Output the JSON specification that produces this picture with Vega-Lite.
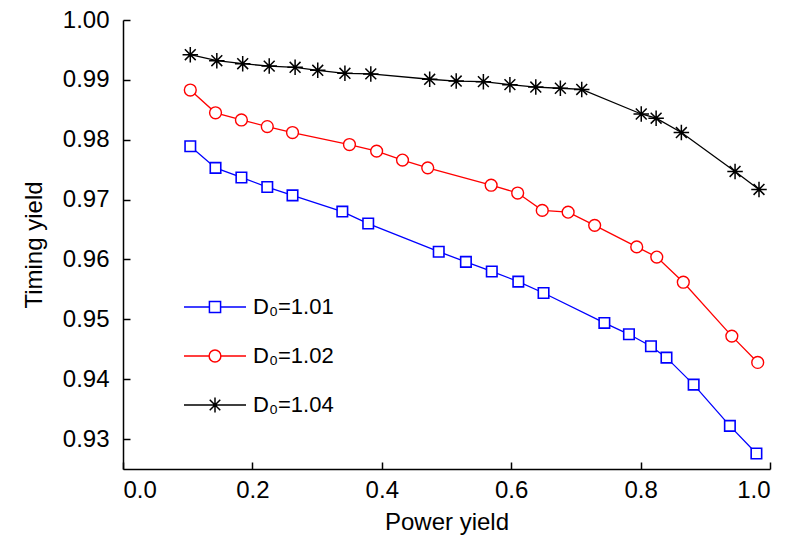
{
  "$schema": "https://vega.github.io/schema/vega-lite/v6.json",
  "width": 647,
  "height": 449,
  "autosize": {"type": "none"},
  "padding": {"left": 123, "top": 20, "right": 35, "bottom": 75},
  "config": {
    "view": {"stroke": null},
    "font": "Liberation Sans",
    "axis": {
      "grid": false,
      "domainColor": "#000000",
      "domainWidth": 1.5,
      "tickColor": "#000000",
      "tickWidth": 1.5,
      "tickSize": -7,
      "labelColor": "#000000",
      "titleColor": "#000000",
      "labelFont": "Liberation Sans",
      "titleFont": "Liberation Sans",
      "labelFontSize": 24,
      "titleFontSize": 24,
      "titleFontWeight": "normal"
    }
  },
  "data": {
    "values": [
      {"series": "D₀=1.01", "x": 0.104, "y": 0.9789},
      {"series": "D₀=1.01", "x": 0.143, "y": 0.9753},
      {"series": "D₀=1.01", "x": 0.183, "y": 0.9737},
      {"series": "D₀=1.01", "x": 0.223, "y": 0.9721},
      {"series": "D₀=1.01", "x": 0.262, "y": 0.9707},
      {"series": "D₀=1.01", "x": 0.339, "y": 0.9680},
      {"series": "D₀=1.01", "x": 0.379, "y": 0.9660},
      {"series": "D₀=1.01", "x": 0.488, "y": 0.9613},
      {"series": "D₀=1.01", "x": 0.530, "y": 0.9596},
      {"series": "D₀=1.01", "x": 0.570, "y": 0.9580},
      {"series": "D₀=1.01", "x": 0.611, "y": 0.9563},
      {"series": "D₀=1.01", "x": 0.650, "y": 0.9544},
      {"series": "D₀=1.01", "x": 0.744, "y": 0.9494},
      {"series": "D₀=1.01", "x": 0.782, "y": 0.9475},
      {"series": "D₀=1.01", "x": 0.816, "y": 0.9455},
      {"series": "D₀=1.01", "x": 0.840, "y": 0.9436},
      {"series": "D₀=1.01", "x": 0.882, "y": 0.9391},
      {"series": "D₀=1.01", "x": 0.938, "y": 0.9322},
      {"series": "D₀=1.01", "x": 0.979, "y": 0.9276},
      {"series": "D₀=1.02", "x": 0.104, "y": 0.9883},
      {"series": "D₀=1.02", "x": 0.143, "y": 0.9845},
      {"series": "D₀=1.02", "x": 0.183, "y": 0.9833},
      {"series": "D₀=1.02", "x": 0.223, "y": 0.9822},
      {"series": "D₀=1.02", "x": 0.262, "y": 0.9812},
      {"series": "D₀=1.02", "x": 0.350, "y": 0.9792},
      {"series": "D₀=1.02", "x": 0.392, "y": 0.9781},
      {"series": "D₀=1.02", "x": 0.432, "y": 0.9766},
      {"series": "D₀=1.02", "x": 0.471, "y": 0.9753},
      {"series": "D₀=1.02", "x": 0.569, "y": 0.9724},
      {"series": "D₀=1.02", "x": 0.610, "y": 0.9711},
      {"series": "D₀=1.02", "x": 0.648, "y": 0.9682},
      {"series": "D₀=1.02", "x": 0.688, "y": 0.9679},
      {"series": "D₀=1.02", "x": 0.729, "y": 0.9657},
      {"series": "D₀=1.02", "x": 0.794, "y": 0.9621},
      {"series": "D₀=1.02", "x": 0.825, "y": 0.9604},
      {"series": "D₀=1.02", "x": 0.866, "y": 0.9562},
      {"series": "D₀=1.02", "x": 0.941, "y": 0.9472},
      {"series": "D₀=1.02", "x": 0.981, "y": 0.9428},
      {"series": "D₀=1.04", "x": 0.104, "y": 0.9942},
      {"series": "D₀=1.04", "x": 0.145, "y": 0.9932},
      {"series": "D₀=1.04", "x": 0.185, "y": 0.9927},
      {"series": "D₀=1.04", "x": 0.226, "y": 0.9923},
      {"series": "D₀=1.04", "x": 0.266, "y": 0.9921},
      {"series": "D₀=1.04", "x": 0.301, "y": 0.9916},
      {"series": "D₀=1.04", "x": 0.343, "y": 0.9911},
      {"series": "D₀=1.04", "x": 0.383, "y": 0.9910},
      {"series": "D₀=1.04", "x": 0.474, "y": 0.9901},
      {"series": "D₀=1.04", "x": 0.515, "y": 0.9898},
      {"series": "D₀=1.04", "x": 0.557, "y": 0.9897},
      {"series": "D₀=1.04", "x": 0.598, "y": 0.9892},
      {"series": "D₀=1.04", "x": 0.638, "y": 0.9888},
      {"series": "D₀=1.04", "x": 0.676, "y": 0.9886},
      {"series": "D₀=1.04", "x": 0.709, "y": 0.9884},
      {"series": "D₀=1.04", "x": 0.801, "y": 0.9843},
      {"series": "D₀=1.04", "x": 0.824, "y": 0.9836},
      {"series": "D₀=1.04", "x": 0.863, "y": 0.9812},
      {"series": "D₀=1.04", "x": 0.946, "y": 0.9747},
      {"series": "D₀=1.04", "x": 0.983, "y": 0.9717}
    ]
  },
  "encoding": {
    "x": {
      "field": "x",
      "type": "quantitative",
      "scale": {"domain": [0, 1], "nice": false},
      "axis": {"values": [0, 0.2, 0.4, 0.6, 0.8, 1], "format": ".1f", "title": "Power yield", "labelPadding": 16, "titlePadding": 8}
    },
    "y": {
      "field": "y",
      "type": "quantitative",
      "scale": {"domain": [0.925, 1.0], "nice": false, "zero": false},
      "axis": {"values": [0.93, 0.94, 0.95, 0.96, 0.97, 0.98, 0.99, 1.0], "format": ".2f", "title": "Timing yield", "labelPadding": 21, "titlePadding": 16}
    }
  },
  "layer": [
    {
      "mark": {"type": "line", "strokeWidth": 1.3},
      "encoding": {
        "color": {
          "field": "series",
          "type": "nominal",
          "scale": {"domain": ["D₀=1.01", "D₀=1.02", "D₀=1.04"], "range": ["#0000ff", "#ff0000", "#000000"]},
          "legend": {
            "title": null,
            "orient": "none",
            "legendX": 60,
            "legendY": 277,
            "padding": 0,
            "symbolSize": 3844,
            "symbolStrokeWidth": 1.5,
            "clipHeight": 20,
            "rowPadding": 27,
            "labelOffset": 6,
            "labelFont": "Liberation Sans",
            "labelFontSize": 22,
            "labelColor": "#000000",
            "encode": {
              "symbols": {
                "update": {
                  "shape": {"signal": "datum.value === 'D₀=1.01' ? 'M-1,0L-0.18,0M0.18,0L1,0M-0.18,-0.18L0.18,-0.18L0.18,0.18L-0.18,0.18Z' : datum.value === 'D₀=1.02' ? 'M-1,0L-0.19,0M0.19,0L1,0M-0.19,0A0.19,0.19 0 1,0 0.19,0A0.19,0.19 0 1,0 -0.19,0Z' : 'M-1,0L1,0M0,-0.24L0,0.24M-0.17,-0.17L0.17,0.17M-0.17,0.17L0.17,-0.17'"},
                  "fill": {"value": "#ffffff"},
                  "fillOpacity": {"value": 1},
                  "stroke": {"scale": "color", "field": "value"},
                  "strokeWidth": {"value": 1.5},
                  "opacity": {"value": 1}
                }
              }
            }
          }
        }
      }
    },
    {
      "transform": [{"filter": "datum.series === 'D₀=1.01'"}],
      "mark": {"type": "point", "shape": "square", "size": 110, "filled": false, "fill": "#ffffff", "fillOpacity": 1, "stroke": "#0000ff", "strokeWidth": 1.6, "opacity": 1}
    },
    {
      "transform": [{"filter": "datum.series === 'D₀=1.02'"}],
      "mark": {"type": "point", "shape": "circle", "size": 140, "filled": false, "fill": "#ffffff", "fillOpacity": 1, "stroke": "#ff0000", "strokeWidth": 1.4, "opacity": 1}
    },
    {
      "transform": [{"filter": "datum.series === 'D₀=1.04'"}],
      "mark": {"type": "point", "shape": "M-1,0L1,0M0,-1L0,1M-0.7,-0.7L0.7,0.7M-0.7,0.7L0.7,-0.7", "size": 240, "filled": false, "stroke": "#000000", "strokeWidth": 1.5, "opacity": 1}
    }
  ]
}
